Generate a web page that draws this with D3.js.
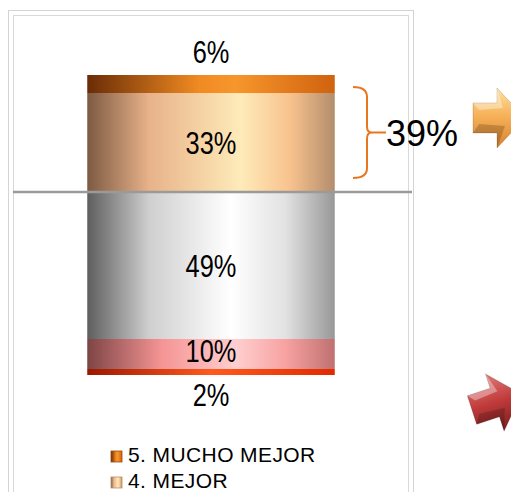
<!DOCTYPE html>
<html>
<head>
<meta charset="utf-8">
<script src="https://cdn.jsdelivr.net/npm/d3@7"></script>
<style>
  body { margin: 0; background: #fff; }
  svg { display: block; }
</style>
</head>
<body>
<div id="chart"></div>
<script>
const width = 511;
const height = 492;

// Data
const categories = ["5. MUCHO MEJOR", "4. MEJOR", "3. IGUAL", "2. PEOR", "1. MUCHO PEOR"];
const values = [6, 33, -49, -10, -2];
const labels = ["6%", "33%", "49%", "10%", "2%"];
const legendItems = ["5. MUCHO MEJOR", "4. MEJOR"];
const bracketLabel = "39%";

// gradient stops per segment (cylinder shading)
const gradients = [
    [["0%", "#6a2c06"], ["45%", "#f08a22"], ["60%", "#f7962c"], ["100%", "#d0620e"]],
    [["0%", "#7d5a42"], ["25%", "#e8b28a"], ["62%", "#feebb9"], ["82%", "#f8c28e"], ["100%", "#b38d6c"]],
    [["0%", "#5e5e5e"], ["25%", "#cfcfcf"], ["58%", "#ffffff"], ["80%", "#e2e2e2"], ["100%", "#989898"]],
    [["0%", "#7e4444"], ["30%", "#f59494"], ["60%", "#ffcfcf"], ["80%", "#f8a2a2"], ["100%", "#c07070"]],
    [["0%", "#9a1800"], ["50%", "#ff5a1e"], ["100%", "#e02a00"]]
];

const svg = d3.select("#chart").append("svg")
    .attr("width", width)
    .attr("height", height);

const defs = svg.append("defs");
gradients.forEach((stops, i) => {
    const g = defs.append("linearGradient")
        .attr("id", "grad" + i)
        .attr("x1", "0%").attr("x2", "100%")
        .attr("y1", "0%").attr("y2", "0%");
    stops.forEach(s => g.append("stop").attr("offset", s[0]).attr("stop-color", s[1]));
});

// arrow gradients
const ga = defs.append("linearGradient").attr("id", "arrowOrange")
    .attr("x1", "0%").attr("x2", "0%").attr("y1", "0%").attr("y2", "100%");
ga.append("stop").attr("offset", "0%").attr("stop-color", "#fde3a0");
ga.append("stop").attr("offset", "45%").attr("stop-color", "#f7b25a");
ga.append("stop").attr("offset", "100%").attr("stop-color", "#d9822c");
const gr = defs.append("linearGradient").attr("id", "arrowRed")
    .attr("x1", "0%").attr("x2", "0%").attr("y1", "0%").attr("y2", "100%");
gr.append("stop").attr("offset", "0%").attr("stop-color", "#e07a7a");
gr.append("stop").attr("offset", "50%").attr("stop-color", "#c03a3a");
gr.append("stop").attr("offset", "100%").attr("stop-color", "#7a1e1e");

// chart frame
svg.append("rect")
    .attr("x", 8.5).attr("y", 10.5)
    .attr("width", 405).attr("height", 490)
    .attr("fill", "none").attr("stroke", "#d4d4d4");
svg.append("rect")
    .attr("x", 13.5).attr("y", 15.5)
    .attr("width", 395).attr("height", 480)
    .attr("fill", "none").attr("stroke", "#d9d9d9");

// scales
const x = d3.scaleBand()
    .domain(["total"])
    .range([13, 409])
    .paddingInner(0.375)
    .paddingOuter(0.1875);

const y = d3.scaleLinear()
    .domain([-65, 45])
    .range([387, 57]);

// stack from zero outward: positives upward (4 then 5), negatives downward (3, 2, 1)
const segs = [];
let pos = 0, neg = 0;
for (let i = values.length - 1; i >= 0; i--) {
    if (values[i] >= 0) {
        segs.push({ i, y0: pos, y1: pos + values[i] });
        pos += values[i];
    }
}
values.forEach((v, i) => {
    if (v < 0) {
        segs.push({ i, y0: neg + v, y1: neg });
        neg += v;
    }
});

svg.selectAll("rect.seg")
    .data(segs)
    .enter().append("rect")
    .attr("class", "seg")
    .attr("x", x("total"))
    .attr("width", x.bandwidth())
    .attr("y", d => y(d.y1))
    .attr("height", d => y(d.y0) - y(d.y1))
    .attr("fill", d => "url(#grad" + d.i + ")");

// zero line
svg.append("line")
    .attr("x1", 13).attr("x2", 412)
    .attr("y1", y(0)).attr("y2", y(0))
    .attr("stroke", "#9a9a9a")
    .attr("stroke-width", 2.5);

// value labels (narrow, tall type)
const cx = x("total") + x.bandwidth() / 2;
svg.selectAll("text.val")
    .data(segs)
    .enter().append("text")
    .attr("class", "val")
    .attr("transform", d => {
        let ty;
        if (d.i === 0) ty = y(d.y1) - 12;
        else if (d.i === 4) ty = y(d.y0) + 31;
        else if (d.i === 3) ty = y(d.y1) + 23;
        else ty = (y(d.y0) + y(d.y1)) / 2 + 11;
        return `translate(${cx},${ty}) scale(0.82,1)`;
    })
    .attr("text-anchor", "middle")
    .attr("font-family", "Liberation Sans, Arial, sans-serif")
    .attr("font-size", 31)
    .attr("fill", "#000")
    .text(d => labels[d.i]);

// curly bracket around the 33% segment
const bx = 353, bv = 367, by0 = 87, by1 = 178, bmid = (by0 + by1) / 2;
svg.append("path")
    .attr("d", `M${bx},${by0} Q${bv},${by0} ${bv},${by0 + 10} L${bv},${bmid - 6} Q${bv},${bmid} ${bv + 5},${bmid}
                Q${bv},${bmid} ${bv},${bmid + 6} L${bv},${by1 - 10} Q${bv},${by1} ${bx},${by1}`)
    .attr("fill", "none")
    .attr("stroke", "#e8761e")
    .attr("stroke-width", 2);
svg.append("line")
    .attr("x1", bv + 5).attr("x2", 386)
    .attr("y1", bmid).attr("y2", bmid)
    .attr("stroke", "#e8761e").attr("stroke-width", 2);
svg.append("text")
    .attr("x", 386)
    .attr("y", 146)
    .attr("font-family", "Liberation Sans, Arial, sans-serif")
    .attr("font-size", 36)
    .attr("fill", "#000")
    .text(bracketLabel);

// arrows
function arrow(g, fill) {
    g.append("path")
        .attr("d", "M0,-15 L24,-15 L24,-30 L52,0 L24,30 L24,15 L0,15 Z")
        .attr("fill", fill)
        .attr("stroke", "rgba(0,0,0,0.15)")
        .attr("stroke-width", 1);
    g.append("path")
        .attr("d", "M0,-15 L24,-15 L24,-30 L30,-10 L6,-8 Z")
        .attr("fill", "rgba(255,255,255,0.35)");
    g.append("path")
        .attr("d", "M0,15 L24,15 L24,30 L32,8 L6,6 Z")
        .attr("fill", "rgba(0,0,0,0.18)");
}
arrow(svg.append("g").attr("transform", "translate(473,118)"), "url(#arrowOrange)");
arrow(svg.append("g").attr("transform", "translate(472,410) rotate(-18)"), "url(#arrowRed)");

// legend
const legend = svg.append("g").attr("transform", "translate(111,451)");
legendItems.forEach((name, i) => {
    const row = legend.append("g").attr("transform", `translate(0,${i * 26})`);
    row.append("rect")
        .attr("width", 11).attr("height", 11)
        .attr("fill", "url(#grad" + i + ")")
        .attr("stroke", i === 0 ? "#9a4a10" : "#b89070")
        .attr("stroke-width", 0.8);
    row.append("text")
        .attr("x", 17)
        .attr("y", 11)
        .attr("font-family", "Liberation Sans, Arial, sans-serif")
        .attr("font-size", 21)
        .attr("letter-spacing", 0.4)
        .attr("fill", "#000")
        .text(name);
});
</script>
</body>
</html>
